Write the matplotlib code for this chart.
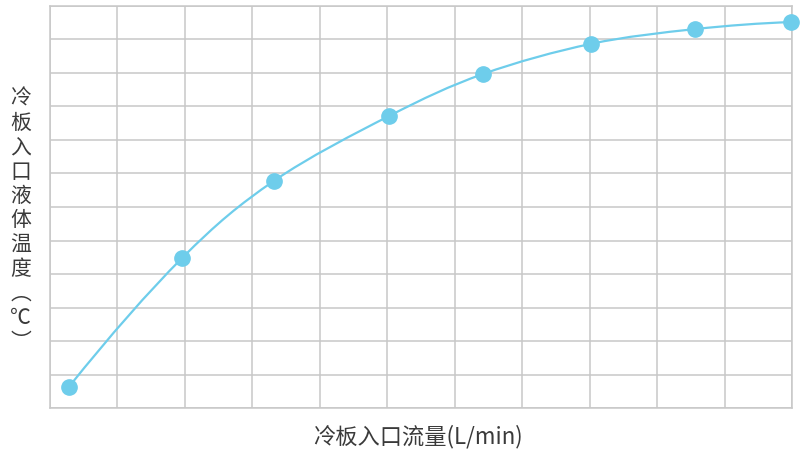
import numpy as np
import matplotlib
matplotlib.use("Agg")
import matplotlib.pyplot as plt
from matplotlib.path import Path
from matplotlib.patches import PathPatch

plt.rcParams['font.family'] = ['Noto Sans CJK SC', 'DejaVu Sans']

# data (grid units, no tick labels in the original)
flow = [0.28, 1.96, 3.32, 5.03, 6.42, 8.02, 9.56, 10.99]
temp = [0.63, 4.48, 6.78, 8.72, 9.97, 10.87, 11.31, 11.52]

x_label = "冷板入口流量(L/min)"
y_label = "冷\n板\n入\n口\n液\n体\n温\n度\n︵\n℃\n︶"

line_color = "#6ecdeb"
grid_color = "#c8c8c8"
text_color = "#3a3a3a"


def smooth_path(xs, ys):
    # cardinal spline through the points, drawn as cubic bezier segments
    pts = np.column_stack([xs, ys]).astype(float)
    n = len(pts)
    tang = np.zeros_like(pts)
    for i in range(1, n - 1):
        tang[i] = (pts[i + 1] - pts[i - 1]) / 2.0
    # ends: mirror the neighbour tangent so the end segments bend too
    tang[0] = 2 * (pts[1] - pts[0]) - tang[1]
    tang[-1] = 2 * (pts[-1] - pts[-2]) - tang[-2]
    verts = [pts[0]]
    codes = [Path.MOVETO]
    for i in range(n - 1):
        verts += [pts[i] + tang[i] / 3.0, pts[i + 1] - tang[i + 1] / 3.0, pts[i + 1]]
        codes += [Path.CURVE4] * 3
    return Path(verts, codes)


fig = plt.figure(figsize=(8, 4.5), dpi=100)
ax = fig.add_axes([0.0625, 0.0933, 0.9275, 0.8934])

ax.set_xlim(0, 11)
ax.set_ylim(0, 12)
ax.set_xticks(np.arange(0, 12))
ax.set_yticks(np.arange(0, 13))
ax.tick_params(length=0, labelbottom=False, labelleft=False)
ax.grid(True, color=grid_color, linewidth=1.1)
ax.set_axisbelow(True)
for s in ax.spines.values():
    s.set_color(grid_color)
    s.set_linewidth(1.1)

patch = PathPatch(smooth_path(flow, temp), facecolor='none',
                  edgecolor=line_color, linewidth=1.6, zorder=3)
ax.add_patch(patch)
ax.plot(flow, temp, 'o', color=line_color, markersize=11, zorder=4,
        clip_on=False)

fig.text(0.5225, 0.029, x_label, ha='center', va='center', fontsize=16,
         color=text_color)
fig.text(0.026, 0.51, y_label, ha='center', va='center', fontsize=15,
         color=text_color, linespacing=1.14)

fig.savefig("out.png", dpi=100)
